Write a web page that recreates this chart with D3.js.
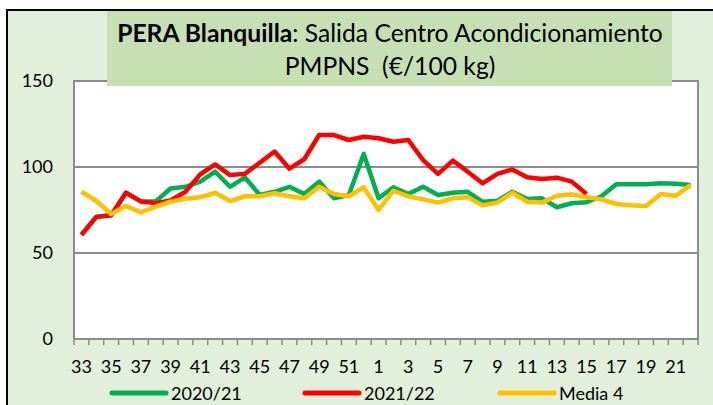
<!DOCTYPE html>
<html>
<head>
<meta charset="utf-8">
<script src="https://cdn.jsdelivr.net/npm/d3@7"></script>
<style>
  body { margin: 0; background: #fff; }
  text { font-family: Lato, "Open Sans", sans-serif; fill: #000; }
</style>
</head>
<body>
<div id="chart"></div>
<script>
// weeks of the campaign (33..52, then 1..22)
const weeks = [33, 34, 35, 36, 37, 38, 39, 40, 41, 42, 43, 44, 45, 46, 47, 48, 49, 50, 51, 52,
    1, 2, 3, 4, 5, 6, 7, 8, 9, 10, 11, 12, 13, 14, 15, 16, 17, 18, 19, 20, 21, 22];

const s2020 = [60.5, 71, 72, 85, 80, 80, 87.5, 88.5, 91.5, 97.3, 88.5, 94, 83.7, 85.6, 88.5, 84.3, 91.5, 81.8, 83.7, 107.6,
    81.8, 88.2, 84.3, 88.5, 83.7, 85, 85.6, 79.8, 80.4, 85.6, 81.4, 81.8, 76.6, 78.9, 79.5, 83, 90, 90, 90, 90.5, 90.3, 89.5];

const s2021 = [60.5, 71, 72, 85, 80, 79, 80.5, 85.6, 95.7, 101.5, 95.3, 96, 102.5, 109, 99, 104.5, 118.6, 118.6, 115.7, 117.6,
    116.7, 114.7, 115.7, 104, 96, 103.7, 97.3, 90.5, 96, 98.6, 94, 93, 93.8, 91.5, 84.3, null, null, null, null, null, null, null];

const media4 = [85.6, 80.4, 72.7, 77.3, 73.6, 77, 79.8, 81.6, 82.4, 85, 80.2, 83, 83, 84.7, 83, 81.8, 88.5, 84.3, 83, 88.2,
    75, 86.2, 83, 81.2, 79.3, 81.8, 82.4, 77.7, 79.3, 85, 79.8, 79.3, 83.3, 84.1, 82.4, 81.2, 78.5, 77.7, 77.3, 84.3, 83.3, 89.5];

const yTicks = [0, 50, 100, 150];
const seriesNames = ["2020/21", "2021/22", "Media 4"];
const seriesColors = ["#00b050", "#ff0000", "#ffc000"];

const W = 713, H = 405;
const plot = { left: 74, right: 698, top: 81, bottom: 339 };

const svg = d3.select("#chart").append("svg")
    .attr("width", W)
    .attr("height", H);

// chart area background + border
svg.append("rect")
    .attr("x", 7).attr("y", 10)
    .attr("width", W - 7).attr("height", H - 10)
    .attr("fill", "#e2efda");
svg.append("path")
    .attr("d", `M7,${H}V10H${W}`)
    .attr("fill", "none")
    .attr("stroke", "#000")
    .attr("stroke-width", 2);

// plot area
svg.append("rect")
    .attr("x", plot.left).attr("y", plot.top)
    .attr("width", plot.right - plot.left).attr("height", plot.bottom - plot.top)
    .attr("fill", "#fff")
    .attr("stroke", "#8c8c8c")
    .attr("stroke-width", 2);

const x = d3.scaleBand()
    .domain(d3.range(weeks.length))
    .range([plot.left, plot.right]);

const y = d3.scaleLinear()
    .domain([0, 150])
    .range([plot.bottom, plot.top]);

// grid lines
svg.append("g")
    .selectAll("line")
    .data(yTicks.slice(1, -1))
    .join("line")
    .attr("x1", plot.left).attr("x2", plot.right)
    .attr("y1", d => y(d)).attr("y2", d => y(d))
    .attr("stroke", "#8c8c8c")
    .attr("stroke-width", 2);

// y axis labels
const yAxis = svg.append("g")
    .attr("transform", `translate(${plot.left},0)`)
    .call(d3.axisLeft(y).tickValues(yTicks).tickSize(0).tickPadding(21));
yAxis.select(".domain").remove();
yAxis.selectAll("text")
    .style("font-family", "Lato, sans-serif")
    .style("font-size", "18px")
    .attr("fill", "#000");

// x axis: ticks between categories
svg.append("g")
    .selectAll("line")
    .data(d3.range(weeks.length + 1))
    .join("line")
    .attr("x1", i => plot.left + i * x.step())
    .attr("x2", i => plot.left + i * x.step())
    .attr("y1", plot.bottom)
    .attr("y2", plot.bottom + 6)
    .attr("stroke", "#8c8c8c")
    .attr("stroke-width", 1.5);

svg.append("line")
    .attr("x1", plot.left).attr("x2", plot.right)
    .attr("y1", plot.bottom).attr("y2", plot.bottom)
    .attr("stroke", "#8c8c8c")
    .attr("stroke-width", 2);

svg.append("g")
    .selectAll("text")
    .data(weeks.map((w, i) => ({ w, i })).filter(d => d.i % 2 === 0))
    .join("text")
    .attr("x", d => x(d.i) + x.bandwidth() / 2)
    .attr("y", 373)
    .attr("text-anchor", "middle")
    .style("font-size", "18px")
    .text(d => d.w);

// lines
const line = d3.line()
    .defined(d => d != null)
    .x((d, i) => x(i) + x.bandwidth() / 2)
    .y(d => y(d));

[s2020, s2021, media4].forEach((s, k) => {
    svg.append("path")
        .datum(s)
        .attr("d", line)
        .attr("fill", "none")
        .attr("stroke", seriesColors[k])
        .attr("stroke-width", 4.5)
        .attr("stroke-linejoin", "round");
});

// title box
svg.append("rect")
    .attr("x", 107).attr("y", 11)
    .attr("width", 565).attr("height", 75)
    .attr("fill", "#c6e0b4");

const t1 = svg.append("text")
    .attr("x", 390).attr("y", 42)
    .attr("text-anchor", "middle")
    .style("font-size", "22px");
t1.append("tspan").style("font-weight", "bold").text("PERA Blanquilla");
t1.append("tspan").text(": Salida Centro Acondicionamiento");

// fit the first title line to the width it has in the original (~546px)
const titleSize = 22 * 546 / t1.node().getComputedTextLength();
t1.style("font-size", titleSize + "px");

svg.append("text")
    .attr("x", 390).attr("y", 75)
    .attr("text-anchor", "middle")
    .style("font-size", titleSize + "px")
    .style("white-space", "pre")
    .text("PMPNS  (€/100 kg)");

// legend
const legendX = [112, 305, 500];
seriesNames.forEach((name, k) => {
    svg.append("line")
        .attr("x1", legendX[k]).attr("x2", legendX[k] + 54)
        .attr("y1", 393).attr("y2", 393)
        .attr("stroke", seriesColors[k])
        .attr("stroke-width", 5)
        .attr("stroke-linecap", "round");
    svg.append("text")
        .attr("x", legendX[k] + 59)
        .attr("y", 399.5)
        .style("font-size", "18px")
        .text(name);
});
</script>
</body>
</html>
